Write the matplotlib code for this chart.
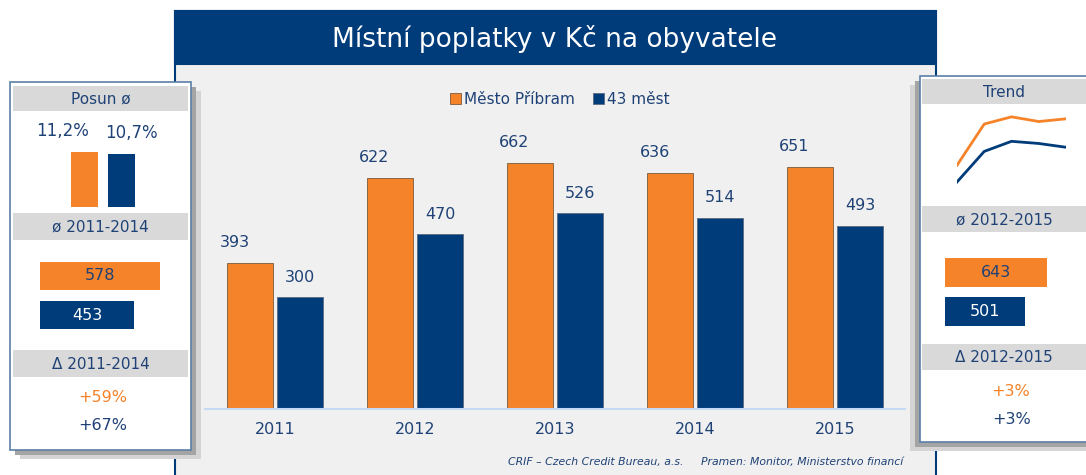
import matplotlib
matplotlib.use("Agg")
import matplotlib.pyplot as plt
from matplotlib.patches import Rectangle
import numpy as np

years = ["2011", "2012", "2013", "2014", "2015"]
pribram = [393, 622, 662, 636, 651]
mest43 = [300, 470, 526, 514, 493]

posun = [11.2, 10.7]
avg_1114 = [578, 453]
delta_1114 = ["+59%", "+67%"]
avg_1215 = [643, 501]
delta_1215 = ["+3%", "+3%"]

ORANGE = "#f5832a"
BLUE = "#003b7a"
TEXT = "#1f4276"
HEAD = "#d9d9d9"
W, H = 1086, 475

plt.rcParams["font.family"] = ["DejaVu Sans"]
fig = plt.figure(figsize=(W / 100, H / 100), dpi=100)


def box(x0, y0, x1, y1):
    # pixel box (top-left origin) -> figure fraction rect
    return [x0 / W, 1 - y1 / H, (x1 - x0) / W, (y1 - y0) / H]


# background layer in pixel coordinates
bg = fig.add_axes([0, 0, 1, 1], zorder=0)
bg.set_xlim(0, W)
bg.set_ylim(H, 0)
bg.axis("off")

# main panel
bg.add_patch(Rectangle((175, 11), 761, 480, facecolor="#f0f0f0", edgecolor=BLUE, lw=1.5))
bg.add_patch(Rectangle((175, 11), 761, 53, facecolor=BLUE, edgecolor=BLUE, lw=1.5))
bg.text(555, 39, "Místní poplatky v Kč na obyvatele", color="white", fontsize=19,
        ha="center", va="center")
bg.text(903, 462, "CRIF – Czech Credit Bureau, a.s.     Pramen: Monitor, Ministerstvo financí",
        color=TEXT, fontsize=7.8, style="italic", ha="right", va="center")


def side_panel(x0, y0, x1, y1, dx):
    # drop shadow, then white card
    bg.add_patch(Rectangle((x0 + 2 * dx, y0 + 9), x1 - x0, y1 - y0, facecolor="#d4d4d4", lw=0))
    bg.add_patch(Rectangle((x0 + dx, y0 + 5), x1 - x0, y1 - y0, facecolor="#a4a4a4", lw=0))
    bg.add_patch(Rectangle((x0, y0), x1 - x0, y1 - y0, facecolor="white",
                           edgecolor="#5b7fa8", lw=1.2))


def header(x0, x1, y0, y1, label):
    bg.add_patch(Rectangle((x0, y0), x1 - x0, y1 - y0, facecolor=HEAD, lw=0))
    bg.text((x0 + x1) / 2, (y0 + y1) / 2 + 1, label, color=TEXT, fontsize=11,
            ha="center", va="center")


# left panel
side_panel(10, 82, 191, 450, 5)
header(13, 188, 86, 111, "Posun ø")
header(13, 188, 213, 240, "ø 2011-2014")
header(13, 188, 350, 377, "Δ 2011-2014")
bg.text(63, 131, "11,2%", color=TEXT, fontsize=12, ha="center", va="center")
bg.text(131, 133, "10,7%", color=TEXT, fontsize=12, ha="center", va="center")
bg.text(103, 397, delta_1114[0], color=ORANGE, fontsize=11.5, ha="center", va="center")
bg.text(103, 425, delta_1114[1], color=TEXT, fontsize=11.5, ha="center", va="center")

# right panel
side_panel(920, 76, 1100, 442, -5)
header(922, 1086, 79, 104, "Trend")
header(922, 1086, 206, 232, "ø 2012-2015")
header(922, 1086, 344, 370, "Δ 2012-2015")
bg.text(1011, 391, delta_1215[0], color=ORANGE, fontsize=11.5, ha="center", va="center")
bg.text(1012, 420, delta_1215[1], color=TEXT, fontsize=11.5, ha="center", va="center")

# main bar chart
ax = fig.add_axes(box(205, 119, 905, 409), zorder=2)
ax.patch.set_alpha(0)
x = np.arange(len(years))
bw = 0.33
b1 = ax.bar(x - bw / 2 - 0.015, pribram, bw, color=ORANGE, edgecolor="#7a5a40", lw=0.6,
            label="Město Příbram")
b2 = ax.bar(x + bw / 2 + 0.015, mest43, bw, color=BLUE, edgecolor="#5a6a80", lw=0.6,
            label="43 měst")
for r, v in zip(b1, pribram):
    ax.annotate(str(v), (r.get_x() + r.get_width() / 2, v), xytext=(-11, 9),
                textcoords="offset points", ha="center", va="bottom", color=TEXT, fontsize=11.5)
for r, v in zip(b2, mest43):
    ax.annotate(str(v), (r.get_x() + r.get_width() / 2, v), xytext=(0, 9),
                textcoords="offset points", ha="center", va="bottom", color=TEXT, fontsize=11.5)
ax.set_xlim(-0.5, 4.5)
ax.set_ylim(0, 780)
ax.set_xticks(x)
ax.set_xticklabels(years, color=TEXT, fontsize=11.5)
ax.tick_params(axis="x", length=0, pad=9)
ax.set_yticks([])
for s in ["top", "right", "left"]:
    ax.spines[s].set_visible(False)
ax.spines["bottom"].set_color("#c6dbf3")
ax.spines["bottom"].set_linewidth(1.5)
leg = ax.legend(loc="center", bbox_to_anchor=(560 / W, 1 - 99 / H), bbox_transform=fig.transFigure,
                ncol=2, frameon=False, fontsize=11, handlelength=0.7, handleheight=0.7,
                handletextpad=0.2, columnspacing=1.2, labelcolor=TEXT)

# left mini bars: posun
ax_p = fig.add_axes(box(66, 120, 140, 207), zorder=2)
ax_p.bar([0, 1], posun, 0.72, color=[ORANGE, BLUE])
ax_p.set_xlim(-0.5, 1.5)
ax_p.set_ylim(0, 11.2 * 87 / 55)
ax_p.axis("off")

# left mini barh: averages 2011-2014
ax_a = fig.add_axes(box(40, 256, 190, 335), zorder=2)
ax_a.barh([0, 1], avg_1114, 0.72, color=[ORANGE, BLUE])
ax_a.set_ylim(1.5, -0.5)
ax_a.set_xlim(0, 150 / 0.2076)
ax_a.axis("off")
for i, (v, c) in enumerate(zip(avg_1114, [TEXT, "white"])):
    ax_a.text(v / 2, i, str(v), color=c, fontsize=11.5, ha="center", va="center")

# right trend lines
ax_t = fig.add_axes(box(957, 110, 1066, 191), zorder=2)
ax_t.plot(x, pribram, color=ORANGE, lw=2)
ax_t.plot(x, mest43, color=BLUE, lw=2)
ax_t.set_xlim(0, 4)
ax_t.set_ylim(250, 250 + 81 / 0.18)
ax_t.axis("off")

# right mini barh: averages 2012-2015
ax_b = fig.add_axes(box(945, 253, 1080, 331), zorder=2)
ax_b.barh([0, 1], avg_1215, 0.72, color=[ORANGE, BLUE])
ax_b.set_ylim(1.5, -0.5)
ax_b.set_xlim(0, 135 / 0.159)
ax_b.axis("off")
for i, (v, c) in enumerate(zip(avg_1215, [TEXT, "white"])):
    ax_b.text(v / 2, i, str(v), color=c, fontsize=11.5, ha="center", va="center")

fig.savefig("out.png", dpi=100)
